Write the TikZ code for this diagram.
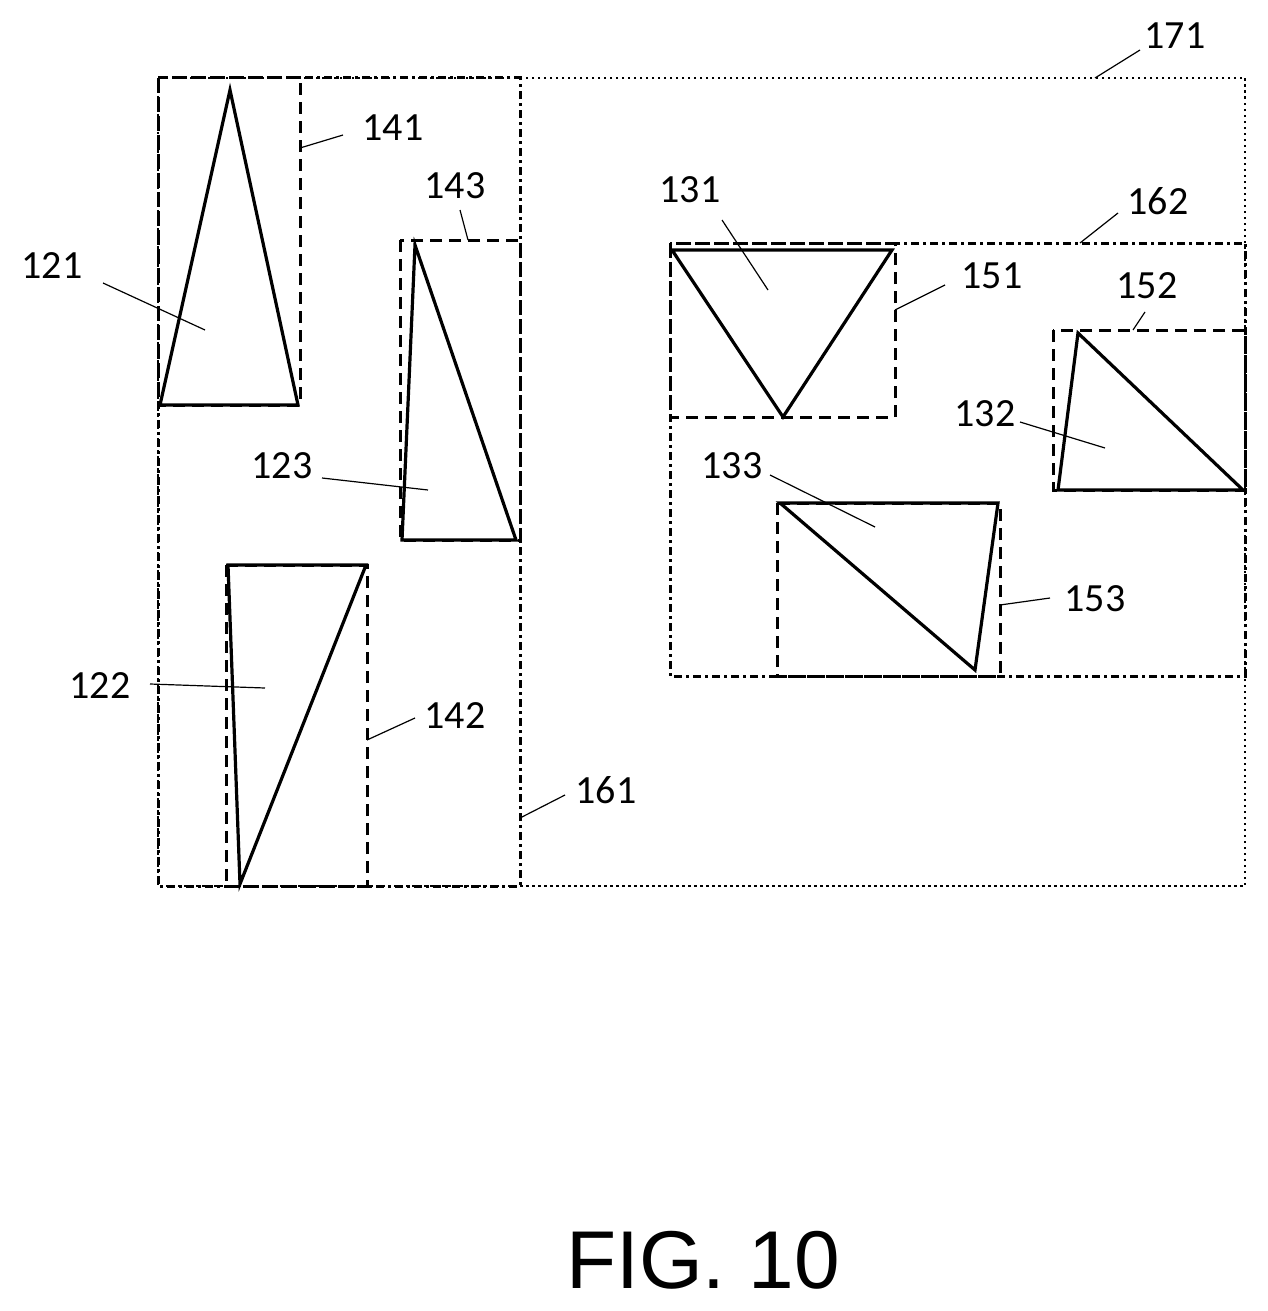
\documentclass[tikz,border=0pt]{standalone}
\usepackage{fontspec}
\setmainfont{Carlito}
\newfontfamily\figfont{Liberation Sans}
\begin{document}
\begin{tikzpicture}[x=1pt,y=-1pt,
 box/.style={line width=3pt,dash pattern=on 12pt off 7pt},
 bigbox/.style={line width=3pt,dash pattern=on 8pt off 4pt on 3pt off 4pt},
 outer/.style={line width=2.4pt,dash pattern=on 2.5pt off 3.5pt},
 tri/.style={line width=3.2pt,line join=miter},
 lbl/.style={font=\fontsize{40}{40}\selectfont,inner sep=0pt},
 lead/.style={line width=1.2pt}]
\useasboundingbox (0,0) rectangle (1267,1311);
% boxes
\draw[outer] (158,78) rectangle (1245,886);
\draw[bigbox] (158,78) rectangle (520,886);
\draw[bigbox] (670,243) rectangle (1245,676);
\draw[box] (158,78) rectangle (300,405);
\draw[box] (400,240) rectangle (520,540);
\draw[box] (226,565) rectangle (367,886);
\draw[box] (670,243) rectangle (895,417);
\draw[box] (1053,330) rectangle (1245,490);
\draw[box] (777,503) rectangle (1000,676);
% triangles
\draw[tri] (230,90) -- (160,405) -- (298,405) -- cycle;
\draw[tri] (415,245) -- (402,540) -- (516,540) -- cycle;
\draw[tri] (228,565) -- (366,565) -- (240,884) -- cycle;
\draw[tri] (672,250) -- (892,250) -- (783,417) -- cycle;
\draw[tri] (1078,333) -- (1058,490) -- (1243,490) -- cycle;
\draw[tri] (780,503) -- (998,503) -- (975,670) -- cycle;
% labels
\foreach \n/\x/\y in {171/1175/36,141/393/128,143/455/186,121/52/266,123/282/466,122/100/686,142/455/716,161/606/790,131/690/190,162/1158/201,151/992/276,152/1147/286,132/985/414,133/732/466,153/1095/599}
  \node[lbl] (l\n) at (\x,\y) {\n};
% leaders
\foreach \n/\ax/\ay/\bx/\by in {171/1095/78/1140/50,141/300/148/343/135,143/468/240/460/210,121/103/283/205/330,123/322/478/428/490,122/150/684/265/688,142/367/740/415/718,161/520/818/565/795,131/722/220/768/290,162/1080/243/1118/213,151/895/310/945/285,152/1133/330/1145/312,132/1020/422/1105/448,133/770/475/875/527,153/1000/605/1050/598}
  {\coordinate (a\n) at (\ax,\ay); \coordinate (b\n) at (\bx,\by); \draw[lead] (a\n) -- (b\n);}
\node[inner sep=0pt,font=\figfont\fontsize{82}{82}\selectfont] (fig) at (703,1260) {FIG. 10};
\end{tikzpicture}
\end{document}
